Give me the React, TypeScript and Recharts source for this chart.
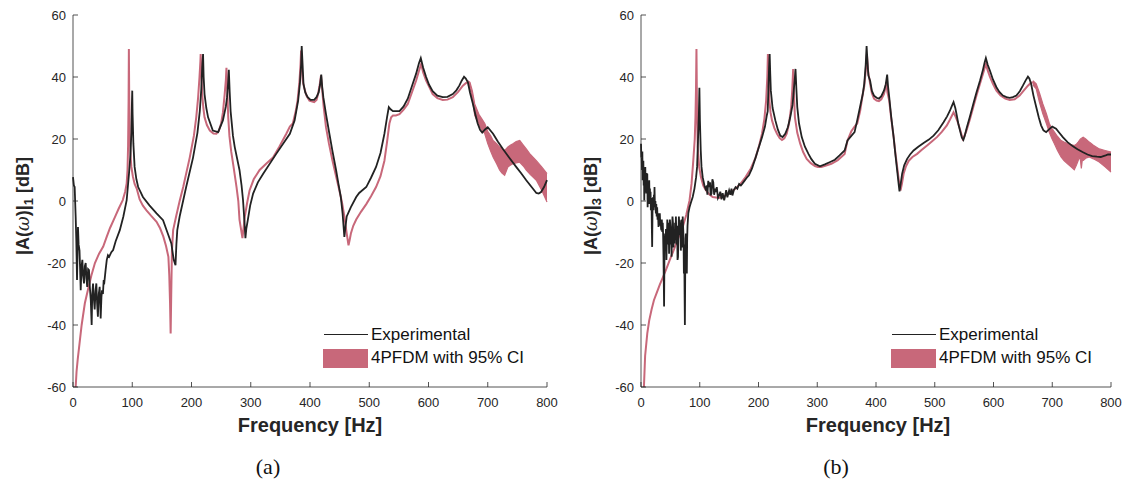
import React from "react";
import { Area, ComposedChart, Line, XAxis, YAxis } from "recharts";

type Pt = [number, number];
type Band = [number, number, number];

const X_TICKS = [0, 100, 200, 300, 400, 500, 600, 700, 800];
const Y_TICKS = [-60, -40, -20, 0, 20, 40, 60];

// panel (a): experimental |A|_1
const expA: Pt[] = [
  [0, 7.7], [1.5, 5], [2.8, 4.5], [4.5, -5], [5.5, -12], [6.8, -25.5], [8.4, -8.4], [9.5, -14], [11, -16], [12, -22],
  [13, -28.8], [14.5, -21], [15.8, -19], [17, -24], [18.6, -26.6], [20, -21], [21.4, -20], [22.7, -25], [24, -27.7],
  [25.5, -22], [27, -22.3], [28.5, -28], [30, -32], [31.5, -40], [32.5, -30], [33.8, -26.6], [35, -31], [36.6, -35],
  [38, -29], [39.4, -26.6], [40.7, -33], [42, -37.3], [43.5, -30], [45, -27.7], [46, -33], [46.7, -37.9], [48, -31],
  [49, -28.8], [50.5, -30], [51.8, -25.5], [53, -26], [55, -22.3], [57, -19], [59, -17.5], [61, -18], [64.7, -16.5],
  [67.7, -15.8], [72, -13], [79, -9.4], [85, -5], [90.6, 0.3], [94.5, 8.8], [97, 15], [98.5, 22], [99.5, 32],
  [100, 35.6], [100.6, 28], [101.9, 18.5], [104, 11], [107, 7], [110, 4.5], [118, 1.3], [129, -1.4], [141, -4],
  [152, -6.2], [160, -10.5], [166, -13.7], [170, -19], [173, -20.7], [174.5, -14], [176, -9.4], [180, -5], [191, 4.5],
  [202.6, 14], [210, 22], [214, 29], [216.5, 36], [218, 43], [219.5, 47.4], [220.5, 40], [222, 34.5], [225, 30],
  [228, 27], [236, 22.7], [245, 22.2], [253, 26], [258, 30.5], [260, 33.5], [262, 38.5], [263, 42.3], [264.5, 35],
  [266, 29], [270, 21], [273, 17.4], [281, 10], [284.5, 5], [287, 0.2], [289.5, -7], [291, -12], [292.5, -9],
  [295, -6.2], [299, -1.5], [304, 2.4], [312, 6], [321, 8.8], [343, 15.2], [366, 21.7], [374, 26], [380, 32.4],
  [383, 38], [385, 44], [386, 50], [387.5, 44], [389, 37.8], [392, 35], [396, 33.5], [401, 32.6], [407, 32.6],
  [411, 33.5], [414.6, 35], [417, 37.5], [419, 40.8], [420.5, 37], [422.5, 33.5], [427, 28], [432.7, 21.7], [438, 16],
  [444, 10], [448, 5.5], [452, 1.3], [455, -4], [458, -11.6], [460, -8], [462, -5], [469, -2], [478, 1.3], [483, 2.6],
  [495, 4.5], [503, 7.5], [511.5, 11], [519, 15.5], [525.6, 21.7], [530, 27], [533, 30.3], [536, 29.6], [540, 29],
  [551, 29], [558, 30.5], [565, 33], [572, 37], [579, 41], [584, 44.5], [587, 46.1], [591, 43], [596, 40],
  [601, 37.5], [607, 35.4], [615, 34], [624, 33.5], [632, 33.6], [641, 34.5], [647, 35.7], [652, 37.2], [656, 38.8],
  [660, 40.1], [663, 39.5], [666.5, 38.3], [670, 35], [675, 31.3], [679, 28], [683, 25], [687, 23], [690.7, 22.1],
  [695, 23], [700, 23.8], [709, 21.7], [717, 19.2], [725.6, 16.8], [737, 13.8], [748, 11], [757, 8.8], [765, 6.7],
  [774, 4.5], [782, 2.6], [786, 2.4], [790, 2.9], [795, 4.5], [800, 6.7],
];

// panel (a): 4PFDM model
const modelA: Pt[] = [
  [4.5, -60], [6, -55], [8, -51], [11, -46], [14.6, -40], [20, -33], [26, -28], [31, -24], [37, -20], [44, -17],
  [51, -14.7], [57, -11.5], [62.5, -8.7], [70, -5.5], [77, -2.5], [84, 0.3], [88, 3], [90.6, 5.7], [92, 10],
  [93, 18], [93.8, 32], [94.3, 49], [94.8, 35], [95.7, 21.7], [97, 15], [98.5, 11], [101, 8], [104, 5.5],
  [107.5, 4], [112.5, 0.5], [118, -1.5], [124, -3], [132, -4.8], [141, -6.7], [147, -8.8], [152.5, -11.5],
  [157, -14.5], [161, -18], [162.5, -24], [163.8, -33], [164.8, -42.7], [165.8, -30], [167, -16], [169, -9.4],
  [174, -5], [180, 0], [186, 4.5], [197, 14], [204, 21], [208, 27], [211, 33], [213.5, 40], [215, 45],
  [215.5, 47.4], [216.5, 42], [218, 34.5], [220, 30], [222, 27], [226, 24.5], [231, 22.7], [237, 21.8], [242, 21.7],
  [246, 22.6], [250, 25], [253, 28.5], [256, 34.5], [258, 39], [259, 43], [260, 38], [262, 27], [264, 21], [267, 16],
  [271, 11], [276, 4.5], [279, 0], [281, -6], [283.5, -9], [286, -12], [288, -8.5], [290, -5], [294, -0.5],
  [298, 3.4], [305, 7], [315, 10], [326, 12], [337.6, 14], [348, 17.4], [360, 21.7], [366, 24], [371, 25],
  [376, 29], [379, 32.4], [382, 38], [384, 44], [385, 48.5], [386.5, 42], [388, 38.5], [390, 36.7], [394, 34],
  [399, 32.4], [407, 31.9], [411, 32.6], [413, 34], [416, 37], [418.6, 40.5], [420.5, 36], [423, 30.5], [427, 23.8],
  [432, 18.5], [438, 13], [444, 8], [449.6, 3.4], [454, -0.5], [458, -5], [462, -10.5], [465, -14.3], [467, -12.5],
  [469, -10.5], [473, -8], [478, -6], [486, -3.5], [495, -1], [503, 1.5], [511.5, 4.5], [519, 8], [525.6, 13],
  [530, 19], [534, 25], [537, 27], [540, 27.6], [545, 27.6], [551, 28], [558, 29.5], [565, 31.3], [572, 35],
  [579, 38.8], [584, 42], [587.6, 44.2], [591, 41.5], [596, 38.8], [602, 36.5], [607, 34.5], [615, 33.2],
  [624, 32.6], [632, 32.7], [641, 33.5], [650, 35.2], [658, 37.2], [663, 38], [666.5, 38.3],
];

// panel (a): 95% CI band [freq, low, high]
const ciA: Band[] = [
  [666.5, 37.6, 38.8], [670, 36.5, 38.3], [674, 33, 35.5], [678, 27.6, 31.3], [685, 24.5, 28], [690, 23, 26.5],
  [695, 21.7, 25], [700, 18.5, 22.5], [705, 16, 21], [709, 14.2, 19.5], [715, 12, 18.5], [720, 10, 17.4],
  [724, 9, 17], [728.5, 8.3, 16.3], [731, 9.5, 16.8], [734, 11, 17.4], [738, 11.5, 18], [742.5, 12, 18.5],
  [748, 12.3, 19.2], [754, 12.5, 19.5], [760, 11.3, 18], [765, 10, 16.8], [772, 8.5, 15], [782, 6.7, 13],
  [791, 3.5, 11], [800, -0.3, 8.8],
];

// panel (b): experimental |A|_3
const expB: Pt[] = [
  [0, 18.5], [0.6, 14], [1.1, 15.2], [1.7, 10], [2.3, 16], [2.8, 6.7], [3.4, 12], [4, 13], [4.6, 5], [5.1, 9],
  [5.6, 0.2], [6.2, 10], [6.8, 7], [7.3, 11], [7.9, 3], [8.4, 8], [9, 2.4], [9.6, 9], [10.1, 4], [10.7, 8.8],
  [11.3, -2], [11.8, 6], [12.4, -0.9], [13, 5], [13.5, 3], [14, 6.7], [14.6, -1], [15.2, 4], [15.7, 0.2], [16.3, 3],
  [16.8, -3], [17.4, -2], [17.9, 1], [18.5, -9], [19, -14.8], [19.6, -3], [20.2, 0], [20.8, 1.3], [21.4, -3], [22, 2],
  [22.5, -1], [23, 4.5], [23.7, -2], [24.5, 0], [25.3, -4], [26, -1], [26.7, -5], [27.5, -2], [28.2, -6], [29, -4],
  [29.8, -8.4], [30.5, -5], [31.2, -7], [32, -4], [32.8, -8], [33.5, -6], [34.2, -9], [34.8, -9.4], [35.5, -6],
  [36.2, -10], [37, -7], [37.6, -10.5], [38.3, -18], [39.3, -34], [40, -15], [41, -10.5], [41.8, -16], [42.5, -9],
  [43.3, -19], [44, -12], [44.8, -6], [45.5, -8.4], [46.3, -14], [47, -7], [47.8, -17], [48.5, -12], [49.2, -6],
  [50, -8.4], [50.8, -14], [51.4, -9], [52, -18], [52.8, -10], [53.6, -5], [54.5, -7.3], [55.2, -15], [56, -9],
  [56.6, -12], [57.3, -13.7], [58, -7], [58.8, -11], [59.4, -5], [60, -9.4], [60.8, -14], [61.5, -8], [62.2, -19],
  [63, -18], [63.8, -10], [64.5, -5], [65.2, -8], [65.7, -6.2], [66.5, -11], [67.2, -7], [67.8, -16], [68.5, -12.7],
  [69.2, -6], [70, -8], [70.6, -15], [71, -5], [71.8, -9], [72.4, -12], [73, -23.4], [73.6, -14], [74.2, -30],
  [74.7, -40], [75.3, -22], [76, -12], [76.4, -10.5], [77, -16], [77.5, -20], [78, -23.4], [78.6, -12], [79.2, -8],
  [79.8, -6.2], [80.5, -4], [81.5, -3], [82.6, -2], [85, -0.5], [88, 1.3], [91, 4], [93.8, 7.7], [95.5, 11],
  [97, 19.5], [98.5, 28], [99.4, 36.5], [100.3, 26], [101.7, 16.3], [103, 11], [105, 7.7], [108, 5], [110.7, 3.4],
  [112, 5], [113, 2], [114.5, 6.5], [116, 4.5], [117.5, 6], [118.5, 1.8], [120, 2.4], [121.5, 7], [123, 6.1],
  [124.5, 2], [126, 4], [127.5, 2.9], [129, 4.5], [131, 1], [133, 1.8], [135, 3], [137, 0.5], [139, 2.5],
  [141.6, 0.2], [143, 1.5], [145, 3.5], [147, 1.2], [150, 3.4], [152, 2], [154, 4], [155.6, 1.8], [158, 3.5],
  [161, 4.5], [164, 4], [167, 5.5], [170, 5], [172.5, 5.6], [176, 6.5], [180, 7.5], [183.7, 8.3], [189, 10.5],
  [195, 14], [200, 17], [206, 20.6], [211, 24], [214, 27.5], [215.7, 29], [217, 37], [218, 43], [219, 47.4],
  [220, 41], [221, 35.6], [224, 30], [228.7, 26], [233, 23], [237, 21.1], [241, 20.6], [245.5, 21.7], [250, 23.8],
  [254, 27], [258, 31], [260, 35.6], [262, 40], [263, 42.6], [264.5, 36], [266, 30.3], [269, 25], [273.6, 20.6],
  [279, 17.5], [285, 15.2], [290, 13.5], [296, 12], [304.5, 11.2], [313, 11.8], [321, 12.5], [330, 13.3],
  [338, 14.7], [346.6, 16.3], [351.5, 19.5], [358, 21], [363.5, 22.2], [368, 26], [373, 30.5], [377.5, 34.5],
  [380, 37.8], [382.5, 44], [384, 50], [385.5, 45], [387, 40.5], [390, 38.8], [393, 35.5], [396.6, 34], [401, 33.3],
  [405, 33], [409, 33.8], [413.5, 35.6], [416.5, 37.5], [419, 40.8], [420.5, 37], [422.5, 33.5], [426, 27],
  [430, 20.6], [433, 15], [436, 9.9], [438.5, 5.5], [440, 3.1], [442, 5.5], [444.5, 8.8], [448, 11.5], [453, 13.6],
  [458, 15], [464, 16.3], [472, 17.5], [481, 18.7], [490, 19.8], [498, 21.1], [506, 22.8], [515, 25.4], [521, 27.3],
  [526, 29.2], [529, 30.6], [532, 31.9], [535, 30], [537.5, 27.6], [540, 25], [543, 22.7], [546, 20.5],
  [548.7, 19.7], [551, 21], [554, 23.3], [560, 27.3], [565.6, 31.3], [571, 35], [577, 38.8], [582, 42.3],
  [585, 44.8], [587, 46.1], [590, 44], [594, 42], [599, 39.2], [605, 36.7], [610, 35.2], [616, 34], [622, 33.5],
  [627.6, 33.3], [633, 33.5], [639, 34], [645, 35.5], [650, 37.2], [655, 39], [658.6, 40.1], [661, 39.5],
  [664, 37.8], [668, 34], [672.7, 30.3], [677, 27], [681, 24.4], [685, 22.8], [689.6, 22.2], [695, 23.2], [700, 24],
  [706.5, 23.3], [712, 22], [718, 20.6], [726, 19], [734.6, 17.7], [743, 16.7], [751.5, 15.8], [760, 15],
  [768, 14.5], [776, 14.3], [782.5, 14.2], [787, 14.5], [791, 14.7], [795, 15], [800, 15],
];

// panel (b): 4PFDM model
const modelB: Pt[] = [
  [5, -60], [7, -50], [10.7, -42.7], [14, -38.5], [18, -35], [22, -32], [26.4, -29.8], [32, -27], [37.6, -24.5],
  [43, -22], [49, -19], [55, -16.2], [60, -13.7], [66, -10.8], [71, -8.4], [77, -4.5], [82.6, 0.2], [86, 5.5],
  [89, 13], [91.5, 20], [92.7, 27], [93.6, 36], [94.4, 49], [95.3, 30], [96.6, 17.4], [99, 11], [102, 7.7],
  [106, 5], [110.7, 3.4], [116, 2.2], [122, 1.3], [133, 1], [144, 1.8], [152, 2.8], [161, 4], [170, 5.7],
  [178, 7.7], [187, 10.5], [195, 14], [201, 17.8], [206, 21.7], [210, 26.5], [213, 32.4], [215, 40], [216, 47.4],
  [217, 40], [218.5, 32.4], [220.5, 28.5], [223, 26], [227, 23.5], [231.5, 21.7], [236, 20.3], [240, 19.7],
  [244, 20.2], [248, 21.7], [252, 25], [255.6, 30.3], [257.5, 36], [259, 42.6], [260.5, 34], [262, 27], [266, 22],
  [271, 18.5], [276, 15.8], [282, 13.6], [289, 12.2], [296, 11.3], [301, 11], [307, 11], [315, 11.4], [324, 12],
  [335, 13.2], [346.6, 15.2], [351.5, 19.5], [358, 22.5], [363.5, 24], [368, 25], [373, 29], [377.5, 34.5],
  [380, 37], [382.5, 42], [384.5, 47.4], [386.5, 42], [390, 37.8], [393, 34.8], [396.6, 33], [401, 32.4],
  [405, 32.2], [409, 32.8], [413.5, 34.5], [415.5, 36], [417.5, 38.3], [419.5, 35], [422.5, 32.4], [426, 26.5],
  [430, 20.6], [433, 15.5], [436, 11], [439, 6.5], [441.7, 3.4], [444, 5.5], [447, 8.8], [451, 11.2], [455.8, 13],
  [462, 14.2], [470, 15.2], [478, 16.5], [487, 17.9], [495, 19.2], [503.7, 20.6], [512, 22.3], [520.6, 24.4],
  [526, 26.3], [532, 28.6], [536, 27], [540, 25], [544, 22.5], [547.6, 20], [550, 20.8], [554, 22.7], [560, 26.5],
  [565.6, 30.3], [571, 34], [577, 37.8], [582, 41], [587, 44.2], [590, 42.2], [594, 40], [599, 37.8], [605, 35.6],
  [612, 34], [620, 33], [627.6, 32.6], [636, 32.8], [644.5, 34], [651, 35.5], [658.6, 37.2], [663, 38], [667, 38.3],
];

// panel (b): 95% CI band [freq, low, high]
const ciB: Band[] = [
  [667, 37.5, 38.8], [672.7, 36.2, 37.8], [678, 32, 35], [684, 28.1, 31.3], [690, 25, 28.2], [695, 22.2, 25],
  [699, 20.3, 23.5], [703.7, 18.5, 22.2], [709, 16.3, 20.8], [715, 14.2, 19.5], [720, 13, 19], [726, 12, 18.5],
  [732, 11, 18.2], [737.5, 10.1, 17.9], [741, 11.5, 18.3], [744, 13, 19], [746, 14.2, 19.5], [748, 13.2, 20],
  [749.5, 10.5, 20.2], [751, 13, 20.4], [752.7, 13.1, 20.6], [757, 13.8, 20], [763, 14.2, 19], [770, 13.6, 18],
  [780, 12.6, 16.8], [790, 11, 16.3], [800, 9.3, 15.8],
];

const AX = "#262626";
const RED = "#c8687a";
const BLACK = "#222222";
const FONT = "'Liberation Sans', Arial, Helvetica, sans-serif";
const TM = 11;

const BottomTick = (p: any) => (
  <g>
    <line x1={p.x} x2={p.x} y1={p.y - TM} y2={p.y - TM - 5} stroke={AX} strokeWidth={0.8} />
    <text x={p.x} y={p.y} dy="0.71em" textAnchor="middle" fontSize={13} fill={AX} fontFamily={FONT}>
      {p.payload.value}
    </text>
  </g>
);
const LeftTick = (p: any) => (
  <g>
    <line x1={p.x + 7} x2={p.x + 12} y1={p.y} y2={p.y} stroke={AX} strokeWidth={0.8} />
    <text x={p.x} y={p.y} dy="0.355em" textAnchor="end" fontSize={13} fill={AX} fontFamily={FONT}>
      {p.payload.value}
    </text>
  </g>
);
const TopTick = (p: any) => <line x1={p.x} x2={p.x} y1={p.y} y2={p.y + 5} stroke={AX} strokeWidth={0.8} />;
const RightTick = (p: any) => <line x1={p.x} x2={p.x - 5} y1={p.y} y2={p.y} stroke={AX} strokeWidth={0.8} />;

const toRows = (pts: Pt[]) => pts.map(([f, v]) => ({ f, v }));
const toBand = (pts: Band[]) => pts.map(([f, lo, hi]) => ({ f, band: [lo, hi] }));

function Panel({ left, exp, model, ci, sub, caption, rightMargin }: any) {
  return (
    <div style={{ position: "absolute", left, top: 0, width: 560, height: 487 }}>
      <ComposedChart width={560} height={430} margin={{ top: 15, right: rightMargin, bottom: 13, left: 33 }}>
        <XAxis
          dataKey="f" type="number" domain={[0, 800]} ticks={X_TICKS} interval={0}
          height={30} tickSize={0} tickMargin={TM} tick={<BottomTick />} stroke={AX} strokeWidth={0.8}
        />
        <XAxis
          xAxisId="top" orientation="top" dataKey="f" type="number" domain={[0, 800]} ticks={X_TICKS}
          interval={0} height={0} tickSize={0} tickMargin={0} tick={<TopTick />} stroke={AX} strokeWidth={0.8}
        />
        <YAxis
          type="number" domain={[-60, 60]} ticks={Y_TICKS} interval={0} width={40}
          tickSize={0} tickMargin={7} tick={<LeftTick />} stroke={AX} strokeWidth={0.8}
        />
        <YAxis
          yAxisId="right" orientation="right" type="number" domain={[-60, 60]} ticks={Y_TICKS} interval={0}
          width={0} tickSize={0} tickMargin={0} tick={<RightTick />} stroke={AX} strokeWidth={0.8}
        />
        <Area
          data={toBand(ci)} dataKey="band" type="linear" stroke={RED} strokeWidth={1.2}
          fill={RED} fillOpacity={1} isAnimationActive={false} dot={false} activeDot={false}
        />
        <Line
          data={toRows(model)} dataKey="v" type="linear" stroke={RED} strokeWidth={2}
          dot={false} activeDot={false} isAnimationActive={false}
        />
        <Line
          data={toRows(exp)} dataKey="v" type="linear" stroke={BLACK} strokeWidth={1.8}
          dot={false} activeDot={false} isAnimationActive={false}
        />
      </ComposedChart>

      {/* legend */}
      <div style={{ position: "absolute", left: 323, top: 324, fontFamily: FONT, fontSize: 17, color: "#111" }}>
        <div style={{ position: "absolute", left: 1, top: 10, width: 44, height: 0, borderTop: `1.5px solid ${BLACK}` }} />
        <div style={{ position: "absolute", left: 48, top: 0, whiteSpace: "nowrap", lineHeight: "22px" }}>Experimental</div>
        <div style={{ position: "absolute", left: 0, top: 25, width: 45, height: 19, background: RED }} />
        <div style={{ position: "absolute", left: 48, top: 23, whiteSpace: "nowrap", lineHeight: "22px" }}>
          4PFDM with 95% CI
        </div>
      </div>

      {/* y label */}
      <div
        style={{
          position: "absolute", left: 24, top: 206, transform: "translate(-50%, -50%) rotate(-90deg)",
          whiteSpace: "nowrap", fontFamily: FONT, fontWeight: "bold", fontSize: 18, color: AX,
        }}
      >
        |A(<span style={{ fontFamily: "'DejaVu Serif', serif", fontStyle: "italic", fontWeight: "normal" }}>ω</span>)|
        <sub style={{ fontSize: 13 }}>{sub}</sub> [dB]
      </div>

      {/* x label */}
      <div
        style={{
          position: "absolute", left: 310, top: 425, transform: "translate(-50%, -50%)",
          whiteSpace: "nowrap", fontFamily: FONT, fontWeight: "bold", fontSize: 20, color: AX,
        }}
      >
        Frequency [Hz]
      </div>

      {/* caption */}
      <div
        style={{
          position: "absolute", left: 268, top: 467, transform: "translate(-50%, -50%)",
          fontFamily: "'Liberation Serif', 'DejaVu Serif', serif", fontSize: 22, color: "#111",
        }}
      >
        {caption}
      </div>
    </div>
  );
}

export default function App() {
  return (
    <div style={{ position: "absolute", left: 0, top: 0, width: 1135, height: 487, background: "#fff" }}>
      <Panel left={0} exp={expA} model={modelA} ci={ciA} sub="1" caption="(a)" rightMargin={13} />
      <Panel left={568} exp={expB} model={modelB} ci={ciB} sub="3" caption="(b)" rightMargin={17} />
    </div>
  );
}
